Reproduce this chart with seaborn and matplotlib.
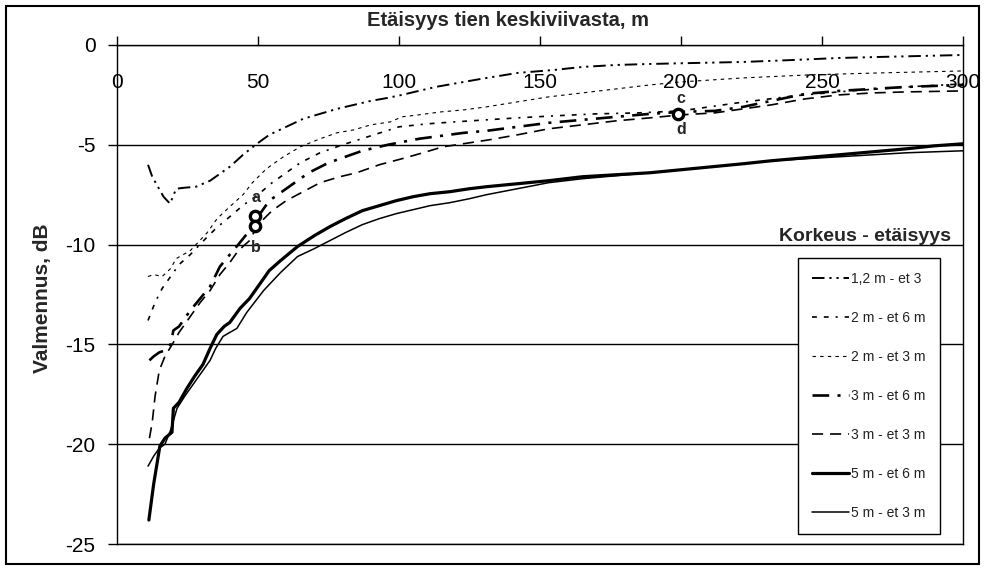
import matplotlib
matplotlib.use("Agg")
import matplotlib.pyplot as plt
import seaborn as sns
import numpy as np
import pandas as pd
from matplotlib.patches import Rectangle

# ---------------- data ----------------
series_labels = ["1,2 m - et 3", "2 m - et 6 m", "2 m - et 3 m", "3 m - et 6 m",
                 "3 m - et 3 m", "5 m - et 6 m", "5 m - et 3 m"]

x_h12_et3 = [11, 12.5, 14.5, 16.5, 18.8, 21, 24, 28, 33, 36.5, 40, 44.7, 49.6, 54, 60, 66, 72, 78, 84,
             90, 96, 101, 107, 113, 121, 129, 142, 155, 165, 177, 189, 205, 222, 240, 256, 270, 285, 300]
y_h12_et3 = [-6.0, -6.6, -7.1, -7.6, -7.95, -7.2, -7.15, -7.1, -6.8, -6.45, -6.1, -5.5, -4.95, -4.5, -4.1,
             -3.7, -3.45, -3.2, -3.0, -2.8, -2.65, -2.5, -2.3, -2.1, -1.9, -1.7, -1.4, -1.25, -1.1, -1.0,
             -0.95, -0.9, -0.85, -0.75, -0.65, -0.6, -0.55, -0.5]

x_h2_et6 = [11, 13.5, 16, 19, 22, 26, 30, 35, 40, 45, 50, 55, 60, 65, 72, 80, 90, 100, 110, 120, 131,
            142, 155, 170, 185, 200, 220, 240, 260, 280, 300]
y_h2_et6 = [-13.8, -12.9, -12.2, -11.6, -11.0, -10.5, -9.9, -9.2, -8.6, -8.0, -7.5, -6.9, -6.4, -5.9,
            -5.4, -5.0, -4.55, -4.1, -3.95, -3.85, -3.75, -3.65, -3.55, -3.45, -3.4, -3.3, -2.9, -2.55,
            -2.3, -2.1, -1.95]

x_h2_et3 = [11, 13, 16, 19, 21, 26, 32, 35.5, 40, 44.7, 48, 53, 59, 65, 72, 78, 84, 90, 97, 101, 107,
            115, 123, 131, 142, 153, 165, 177, 189, 200, 222, 245, 270, 300]
y_h2_et3 = [-11.6, -11.5, -11.6, -11.2, -10.7, -10.3, -9.4, -8.7, -8.1, -7.5, -6.9, -6.2, -5.6, -5.1,
            -4.7, -4.4, -4.25, -4.0, -3.85, -3.6, -3.5, -3.35, -3.25, -3.1, -2.85, -2.6, -2.4, -2.2,
            -2.0, -1.85, -1.65, -1.5, -1.4, -1.3]

x_h3_et6 = [11.5, 13, 15, 17, 19, 20, 22, 26, 29.5, 33, 36.5, 40, 43, 47, 50, 54, 58, 64, 68, 75, 81,
            87, 96, 107, 115, 123, 131, 142, 153, 165, 177, 189, 200, 212, 222, 232, 244, 256, 268,
            280, 300]
y_h3_et6 = [-15.8, -15.6, -15.4, -15.3, -15.0, -14.3, -14.1, -13.3, -12.7, -12.1, -11.1, -10.5, -10.0,
            -9.3, -8.6, -7.8, -7.4, -6.8, -6.4, -5.9, -5.6, -5.3, -5.0, -4.7, -4.55, -4.4, -4.3, -4.1,
            -3.9, -3.75, -3.6, -3.45, -3.35, -3.3, -3.1, -2.8, -2.45, -2.3, -2.2, -2.1, -2.0]

x_h3_et3 = [11.5, 12.5, 13.5, 15, 17, 20, 22, 26, 29.5, 33, 36.5, 40, 43, 47, 50, 55, 60, 64, 72, 79,
            85, 93, 101, 108.5, 115.6, 125, 132, 142, 153, 165, 177, 189, 200, 212, 222, 232, 244, 256,
            268, 280, 300]
y_h3_et3 = [-19.7, -18.9, -17.6, -16.3, -15.6, -14.9, -14.4, -13.6, -12.9, -12.3, -11.5, -10.9, -10.3,
            -9.8, -9.0, -8.3, -7.8, -7.5, -6.9, -6.6, -6.4, -6.0, -5.7, -5.4, -5.1, -4.9, -4.75, -4.5,
            -4.2, -4.0, -3.8, -3.65, -3.5, -3.4, -3.2, -3.0, -2.7, -2.5, -2.4, -2.35, -2.3]

x_h5_et6 = [11.3, 13, 15.2, 17, 19.5, 20, 22, 24.8, 27.5, 30.5, 33, 35.4, 38, 40, 43.6, 47, 50, 54, 58,
            64, 70, 75.5, 81, 87, 93, 99, 105, 111, 118, 125, 131, 142, 153, 165, 177, 189, 200, 211,
            222, 232, 244, 256, 268, 280, 290, 300]
y_h5_et6 = [-23.8, -22.0, -20.1, -19.7, -19.4, -18.2, -17.9, -17.2, -16.6, -16.0, -15.2, -14.5, -14.1,
            -13.9, -13.2, -12.7, -12.1, -11.3, -10.8, -10.1, -9.55, -9.1, -8.7, -8.3, -8.05, -7.8, -7.6,
            -7.45, -7.35, -7.2, -7.1, -6.95, -6.8, -6.6, -6.5, -6.4, -6.25, -6.1, -5.95, -5.8, -5.65,
            -5.5, -5.35, -5.2, -5.05, -4.95]

x_h5_et3 = [11, 13, 15, 17, 19, 21.3, 24, 27, 30, 33, 35, 37.6, 40, 42.5, 46, 52, 58, 64, 70, 75.5, 81,
            87, 93, 99, 105, 111, 118, 125, 131, 142, 153, 165, 177, 189, 200, 211, 222, 232, 244, 256,
            268, 280, 290, 300]
y_h5_et3 = [-21.1, -20.6, -20.2, -20.0, -19.3, -18.2, -17.6, -17.0, -16.4, -15.8, -15.2, -14.6, -14.4,
            -14.2, -13.4, -12.3, -11.4, -10.6, -10.2, -9.8, -9.4, -9.0, -8.7, -8.45, -8.25, -8.05, -7.9,
            -7.7, -7.5, -7.2, -6.9, -6.7, -6.55, -6.4, -6.25, -6.1, -5.95, -5.8, -5.7, -5.6, -5.5, -5.4,
            -5.35, -5.3]

point_x = [49, 49, 199]
point_y = [-8.55, -9.05, -3.45]
letter_x = [49.3, 49.3, 200, 200]
letter_y = [-7.65, -10.15, -2.7, -4.25]
letters = ["a", "b", "c", "d"]

x_ticks = [0, 50, 100, 150, 200, 250, 300]
y_ticks = [0, -5, -10, -15, -20, -25]

title_text = "Etäisyys tien keskiviivasta, m"
ylabel_text = "Valmennus, dB"
legend_title = "Korkeus - etäisyys"

# ---------------- style ----------------
sns.set_style("white")
plt.rcParams["font.family"] = ["Liberation Sans", "DejaVu Sans"]
plt.rcParams["lines.scale_dashes"] = False

fig = plt.figure(figsize=(9.85, 5.70), dpi=100)
ax = fig.add_axes([117 / 985, 1 - 544 / 570, 846 / 985, 499 / 570])

series = [
    (x_h12_et3, y_h12_et3, 1.4, (0, (9, 3.5, 1.6, 3.5, 1.6, 3.5))),
    (x_h2_et6, y_h2_et6, 1.2, (0, (3.5, 5, 3.5, 5, 1.5, 5))),
    (x_h2_et3, y_h2_et3, 0.8, (0, (2.5, 3.0))),
    (x_h3_et6, y_h3_et6, 1.9, (0, (12, 6, 2.2, 6))),
    (x_h3_et3, y_h3_et3, 1.2, (0, (8, 5))),
    (x_h5_et6, y_h5_et6, 2.3, "solid"),
    (x_h5_et3, y_h5_et3, 1.1, "solid"),
]

for (xs, ys, lw, ls), lab in zip(series, series_labels):
    sns.lineplot(x=xs, y=ys, ax=ax, color="black", linewidth=lw, linestyle=ls,
                 label=lab, estimator=None, sort=False)

sns.scatterplot(x=point_x, y=point_y, ax=ax, s=55, facecolor="white",
                edgecolor="black", linewidth=2.4, zorder=6, legend=False)
for lx, ly, t in zip(letter_x, letter_y, letters):
    ax.text(lx, ly, t, ha="center", va="center", fontsize=11.5, fontweight="bold", zorder=7)

ax.set_xlim(0, 300)
ax.set_ylim(-25, 0)
ax.set_xticks(x_ticks)
ax.set_yticks(y_ticks)
ax.set_xticklabels([str(v) for v in x_ticks])
ax.set_yticklabels([str(v) for v in y_ticks])
ax.tick_params(axis="x", top=True, bottom=False, labeltop=True, labelbottom=False,
               direction="out", length=6.5, width=1, pad=-40, labelsize=15, colors="black")
ax.tick_params(axis="y", left=True, direction="out", length=6.5, width=1, pad=9,
               labelsize=15, colors="black")
ax.set_xlabel("")
ax.set_ylabel("")

ax.yaxis.grid(True, color="black", linewidth=1.0)
ax.xaxis.grid(False)
for s in ax.spines.values():
    s.set_visible(True)
    s.set_color("black")
    s.set_linewidth(1.0)

leg = ax.legend(loc="upper left", bbox_to_anchor=(798 / 985, 1 - 258 / 570),
                bbox_transform=fig.transFigure, fontsize=10, frameon=True, fancybox=False,
                edgecolor="black", framealpha=1, borderpad=1.0, labelspacing=1.8,
                handlelength=2.7, handletextpad=0.15, borderaxespad=0)
leg.get_frame().set_linewidth(1.0)
for t in leg.get_texts():
    t.set_color("#222222")

fig.text(508 / 985, 1 - 20 / 570, title_text, ha="center", va="center",
         fontsize=14.5, fontweight="bold")
fig.text(43 / 985, 1 - 298 / 570, ylabel_text, ha="center", va="center",
         rotation=90, fontsize=15, fontweight="bold")
fig.text(865 / 985, 1 - 241 / 570, legend_title, ha="center", va="baseline",
         fontsize=14, fontweight="bold")

fig.patches.append(Rectangle((6 / 985, 6 / 570), 973 / 985, 558 / 570, transform=fig.transFigure,
                             fill=False, edgecolor="black", linewidth=1.5))

fig.savefig("out.png", dpi=100)
